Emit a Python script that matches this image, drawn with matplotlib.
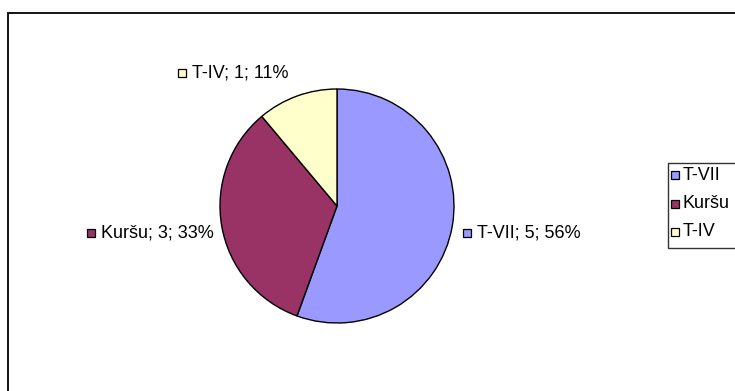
import matplotlib
matplotlib.use("Agg")
import matplotlib.pyplot as plt
from matplotlib.patches import Rectangle

plt.rcParams['font.family'] = ['Liberation Sans', 'DejaVu Sans']

# data
names = ["T-VII", "Kuršu", "T-IV"]
counts = [5, 3, 1]
colors = ["#9999FF", "#993366", "#FFFFCC"]

W, H = 735, 391


def fy(y):
    # pixel row (top down) -> axes y (bottom up)
    return H - y


fig = plt.figure(figsize=(W / 100, H / 100), dpi=100)
ax = fig.add_axes([0, 0, 1, 1])

# chart area border (runs off the right and bottom edges)
ax.add_patch(Rectangle((8, fy(420)), 800, 407, fill=False,
                       edgecolor="black", linewidth=1.3))

wedges, _ = ax.pie(counts, colors=colors, startangle=90, counterclock=False,
                   center=(337, fy(206)), radius=117,
                   wedgeprops=dict(edgecolor="black", linewidth=1.0))

total = sum(counts)
label_pos = {"T-VII": (463, 233), "Kuršu": (87, 233), "T-IV": (178, 73)}
for name, n, c in zip(names, counts, colors):
    x, y = label_pos[name]
    ax.add_patch(Rectangle((x, fy(y) - 4), 8, 8, facecolor=c,
                           edgecolor="black", linewidth=0.9))
    ax.text(x + 14, fy(y), f"{name}; {n}; {round(100 * n / total)}%",
            fontsize=13, va="center", ha="left", color="black")

# legend box
ax.add_patch(Rectangle((668, fy(248)), 100, 85, fill=False,
                       edgecolor="#333333", linewidth=1.0))
for i, (name, c) in enumerate(zip(names, colors)):
    y = 175 + i * 28.5
    ax.add_patch(Rectangle((671, fy(y) - 4), 8, 8, facecolor=c,
                           edgecolor="black", linewidth=0.9))
    ax.text(683, fy(y), name, fontsize=13, va="center", ha="left", color="black")

ax.set_xlim(0, W)
ax.set_ylim(0, H)
ax.set_aspect("equal")
ax.axis("off")

fig.savefig("out.png", dpi=100)
